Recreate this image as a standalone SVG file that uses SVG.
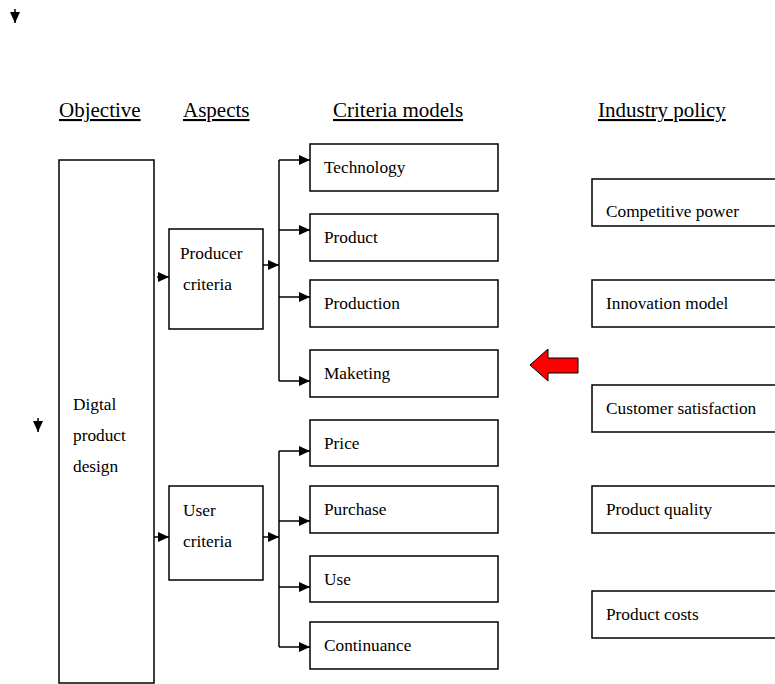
<svg xmlns="http://www.w3.org/2000/svg" width="775" height="684" viewBox="0 0 775 684">
<defs>
<marker id="ah" markerWidth="11" markerHeight="10" refX="11" refY="5" orient="auto" markerUnits="userSpaceOnUse"><path d="M0,0 L11,5 L0,10 Z" fill="#000"/></marker>
<style>
.b{fill:#fff;stroke:#000;stroke-width:1.5}
.t{font-family:"Liberation Serif","Times New Roman",serif;font-size:17.3px;fill:#000}
.s{font-family:"Liberation Serif","Times New Roman",serif;font-size:17.3px;fill:#000}
.h{font-family:"Liberation Serif","Times New Roman",serif;font-size:21px;fill:#000;text-decoration:underline}
.c{fill:none;stroke:#000;stroke-width:1.5}
</style>
</defs>
<rect width="775" height="684" fill="#fff"/>
<g id="headers">
<text class="h" x="59" y="117">Objective</text>
<text class="h" x="183" y="117">Aspects</text>
<text class="h" x="333" y="117">Criteria models</text>
<text class="h" x="598" y="117">Industry policy</text>
</g>
<g id="objective"><rect class="b" x="59" y="160" width="95" height="523"/>
<text class="t" x="73" y="410">Digtal</text><text class="t" x="73" y="441">product</text><text class="t" x="73" y="472">design</text></g>
<g id="producer"><rect class="b" x="169" y="229" width="94" height="100"/>
<text class="t" x="180" y="259">Producer</text><text class="t" x="183" y="290">criteria</text></g>
<g id="user"><rect class="b" x="169" y="486" width="94" height="94"/>
<text class="t" x="183" y="516">User</text><text class="t" x="183" y="547">criteria</text></g>
<g id="technology"><rect class="b" x="310" y="144" width="188" height="47"/><text class="t" x="324" y="173">Technology</text></g>
<g id="product"><rect class="b" x="310" y="214" width="188" height="47"/><text class="t" x="324" y="243">Product</text></g>
<g id="production"><rect class="b" x="310" y="280" width="188" height="47"/><text class="t" x="324" y="309">Production</text></g>
<g id="maketing"><rect class="b" x="310" y="350" width="188" height="47"/><text class="t" x="324" y="379">Maketing</text></g>
<g id="price"><rect class="b" x="310" y="420" width="188" height="46"/><text class="t" x="324" y="449">Price</text></g>
<g id="purchase"><rect class="b" x="310" y="486" width="188" height="47"/><text class="t" x="324" y="515">Purchase</text></g>
<g id="use"><rect class="b" x="310" y="556" width="188" height="46"/><text class="t" x="324" y="585">Use</text></g>
<g id="continuance"><rect class="b" x="310" y="622" width="188" height="47"/><text class="t" x="324" y="651">Continuance</text></g>
<g id="competitive"><rect class="b" x="592" y="179" width="190" height="47"/><text class="s" x="606" y="217">Competitive power</text></g>
<g id="innovation"><rect class="b" x="592" y="280" width="190" height="47"/><text class="s" x="606" y="309">Innovation model</text></g>
<g id="satisfaction"><rect class="b" x="592" y="385" width="190" height="47"/><text class="s" x="606" y="414">Customer satisfaction</text></g>
<g id="quality"><rect class="b" x="592" y="486" width="190" height="47"/><text class="s" x="606" y="515">Product quality</text></g>
<g id="costs"><rect class="b" x="592" y="591" width="190" height="47"/><text class="s" x="606" y="620">Product costs</text></g>
<g id="connectors">
<path class="c" d="M157,277 H169" marker-end="url(#ah)"/>
<path class="c" d="M154,537 H169" marker-end="url(#ah)"/>
<path class="c" d="M263,265 H279" marker-end="url(#ah)"/>
<path class="c" d="M263,537 H279" marker-end="url(#ah)"/>
<path class="c" d="M279,160 V381"/>
<path class="c" d="M279,160 H310" marker-end="url(#ah)"/>
<path class="c" d="M279,230 H310" marker-end="url(#ah)"/>
<path class="c" d="M279,297 H310" marker-end="url(#ah)"/>
<path class="c" d="M279,381 H310" marker-end="url(#ah)"/>
<path class="c" d="M279,451 V647"/>
<path class="c" d="M279,451 H310" marker-end="url(#ah)"/>
<path class="c" d="M279,521 H310" marker-end="url(#ah)"/>
<path class="c" d="M279,587 H310" marker-end="url(#ah)"/>
<path class="c" d="M279,647 H310" marker-end="url(#ah)"/>
<path class="c" d="M15,9 V23" marker-end="url(#ah)"/>
<path class="c" d="M38,418 V432" marker-end="url(#ah)"/>
<path d="M578,358 H548 V349 L530,365 L548,381 V373 H578 Z" fill="#f00" stroke="#000" stroke-width="1"/>
</g>
</svg>
